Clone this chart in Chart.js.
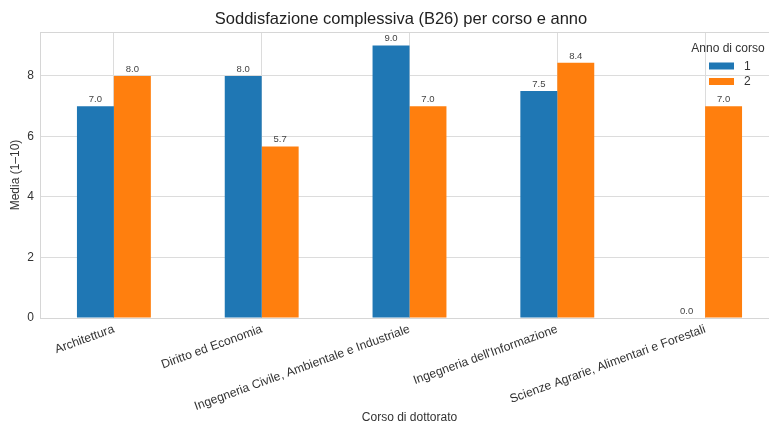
<!DOCTYPE html>
<html>
<head>
<meta charset="utf-8">
<script src="https://cdn.jsdelivr.net/npm/chart.js@4/dist/chart.umd.min.js"></script>
<style>
html,body{margin:0;padding:0;background:#fff;overflow:hidden;width:769px;height:425px;}
canvas{display:block;}
</style>
</head>
<body>
<canvas id="c" width="790" height="425"></canvas>
<script>
const categories = ["Architettura", "Diritto ed Economia", "Ingegneria Civile, Ambientale e Industriale", "Ingegneria dell'Informazione", "Scienze Agrarie, Alimentari e Forestali"];
const seriesNames = ["1", "2"];
const year1 = [7.0, 8.0, 9.0, 7.5, 0.0];
const year2 = [8.0, 5.67, 7.0, 8.43, 7.0];
const yTicks = [0, 2, 4, 6, 8];
const colors = ["#1f77b4", "#ff7f0e"];
const chartTitle = "Soddisfazione complessiva (B26) per corso e anno";
const legendTitle = "Anno di corso";

const FONT = "'Liberation Sans', Arial, sans-serif";

const frame = {
  id: 'frame',
  beforeDatasetsDraw(chart) {
    const a = chart.chartArea, ctx = chart.ctx;
    ctx.save();
    ctx.strokeStyle = "#d6d6d6";
    ctx.lineWidth = 1;
    ctx.strokeRect(Math.round(a.left) + 0.5, Math.round(a.top) + 0.5, Math.round(a.right - a.left), Math.round(a.bottom - a.top));
    ctx.restore();
  }
};

const figTitle = {
  id: 'figTitle',
  afterDraw(chart) {
    const ctx = chart.ctx;
    ctx.save();
    ctx.font = "16.5px " + FONT;
    ctx.fillStyle = "#222";
    ctx.textAlign = "center";
    ctx.textBaseline = "middle";
    ctx.fillText(chartTitle, 401, 19);
    ctx.restore();
  }
};

const valueLabels = {
  id: 'valueLabels',
  afterDatasetsDraw(chart) {
    const ctx = chart.ctx;
    ctx.save();
    ctx.font = "9.5px " + FONT;
    ctx.fillStyle = "#444";
    ctx.textAlign = "center";
    ctx.textBaseline = "bottom";
    chart.data.datasets.forEach((ds, i) => {
      const meta = chart.getDatasetMeta(i);
      meta.data.forEach((bar, j) => {
        ctx.fillText(Number(ds.data[j]).toFixed(1), bar.x, bar.y - 2);
      });
    });
    ctx.restore();
  }
};

const customLegend = {
  id: 'customLegend',
  afterDraw(chart) {
    const ctx = chart.ctx;
    ctx.save();
    ctx.font = "12px " + FONT;
    ctx.fillStyle = "#333";
    ctx.textAlign = "center";
    ctx.textBaseline = "middle";
    ctx.fillText(legendTitle, 728, 49);
    ctx.textAlign = "left";
    chart.data.datasets.forEach((ds, i) => {
      const y = 66 + i * 15.5;
      ctx.fillStyle = ds.backgroundColor;
      ctx.fillRect(709, y - 3.5, 25, 7);
      ctx.fillStyle = "#333";
      ctx.fillText(ds.label, 744, y + 0.5);
    });
    ctx.restore();
  }
};

new Chart(document.getElementById('c'), {
  type: 'bar',
  data: {
    labels: categories,
    datasets: [
      { label: seriesNames[0], data: year1, backgroundColor: colors[0], borderWidth: 0 },
      { label: seriesNames[1], data: year2, backgroundColor: colors[1], borderWidth: 0 }
    ]
  },
  options: {
    responsive: false,
    animation: false,
    devicePixelRatio: 1,
    layout: { padding: { left: 0, right: 11, top: 32, bottom: 0 } },
    categoryPercentage: 0.5,
    barPercentage: 1.0,
    plugins: {
      legend: { display: false },
      tooltip: { enabled: false },
      title: { display: false }
    },
    scales: {
      x: {
        grid: { color: "#dcdcdc", offset: false, drawTicks: false, lineWidth: 1 },
        border: { color: "#d6d6d6" },
        ticks: {
          color: "#333",
          font: { family: FONT, size: 12.2 },
          minRotation: 20, maxRotation: 20,
          autoSkip: false,
          padding: 4
        },
        title: {
          display: true,
          text: "Corso di dottorato",
          color: "#333",
          font: { family: FONT, size: 12 },
          padding: { top: 0, bottom: 0 }
        },
        afterFit(scale) { scale.height = 107; }
      },
      y: {
        min: 0,
        max: 9.45,
        grid: { color: "#dcdcdc", drawTicks: false },
        border: { color: "#d6d6d6" },
        afterBuildTicks(scale) { scale.ticks = yTicks.map(v => ({ value: v })); },
        ticks: {
          color: "#333",
          font: { family: FONT, size: 12 },
          padding: 6
        },
        title: {
          display: true,
          text: "Media (1–10)",
          color: "#333",
          font: { family: FONT, size: 12 },
          padding: { top: 8, bottom: 0 }
        },
        afterFit(scale) { scale.width = 40; }
      }
    }
  },
  plugins: [frame, valueLabels, customLegend, figTitle]
});
</script>
</body>
</html>
